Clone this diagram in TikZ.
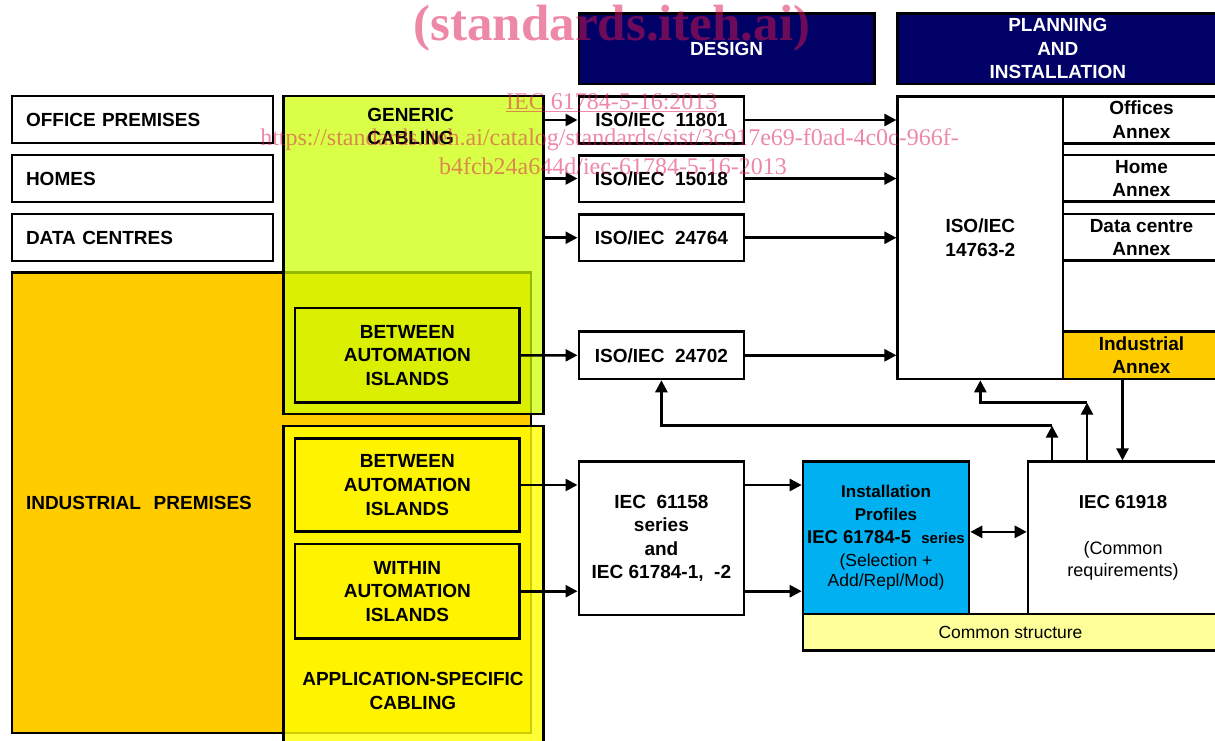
\documentclass[tikz,border=0pt]{standalone}
\usepackage{fontspec}
\setmainfont{Liberation Sans}
\newfontfamily\wmfont{Liberation Serif}
\usetikzlibrary{arrows.meta}
\definecolor{navy}{RGB}{0,0,102}
\definecolor{orangebox}{RGB}{255,204,0}
\definecolor{greenbox}{RGB}{204,255,0}
\definecolor{yellowbox}{RGB}{255,255,0}
\definecolor{bluebox}{RGB}{0,176,240}
\definecolor{paleyellow}{RGB}{255,255,153}
\definecolor{wmpink}{RGB}{220,20,80}
\newcommand{\boxfont}{\bfseries\fontsize{19}{23.6}\selectfont}

\begin{document}
\begin{tikzpicture}
    [x=1pt, y=-1pt, line width=2.6pt,
     box/.style={draw, rectangle, inner sep=0pt, align=center, font=\boxfont},
     txt/.style={inner sep=0pt, align=center, font=\boxfont},
     arr/.style={-{Triangle[length=12pt,width=12pt]}},
     wm/.style={inner sep=0pt, anchor=base, text=wmpink, text opacity=0.5}]
    \useasboundingbox (0,0) rectangle (1215,740);
    \clip (0,0) rectangle (1215,740);
    \fill[white] (0,0) rectangle (1215,740);
    % premises
    \node[box, minimum width=261pt, minimum height=47pt, text width=233pt, align=left] (office) at (142.5,119.5) {OFFICE PREMISES};
    \node[box, minimum width=261pt, minimum height=47pt, text width=233pt, align=left] (homes) at (142.5,178.5) {HOMES};
    \node[box, minimum width=261pt, minimum height=47pt, text width=233pt, align=left] (datac) at (142.5,237.5) {DATA CENTRES};
    \node[box, fill=orangebox, minimum width=519pt, minimum height=460.5pt, text width=491pt, align=left] (indprem) at (271.5,502.75) {INDUSTRIAL~~PREMISES};
    % cabling
    \node[box, fill=greenbox, fill opacity=0.72, minimum width=260pt, minimum height=318pt] (generic) at (413.5,255) {};
    \node[box, fill=yellowbox, fill opacity=0.8, minimum width=260pt, minimum height=330pt] (appsp) at (413.5,591) {};
    \node[txt] (generictxt) at (410.6,126.5) {GENERIC\\CABLING};
    \node[txt] (appsptxt) at (413,691) {APPLICATION-SPECIFIC\\CABLING};
    \node[box, minimum width=224.6pt, minimum height=94.7pt] (betA) at (407.3,355.4) {BETWEEN\\AUTOMATION\\ISLANDS};
    \node[box, minimum width=224.6pt, minimum height=93.4pt] (betB) at (407.3,485) {BETWEEN\\AUTOMATION\\ISLANDS};
    \node[box, minimum width=224.6pt, minimum height=94.3pt] (within) at (407.3,591.2) {WITHIN\\AUTOMATION\\ISLANDS};
    % design
    \node[box, fill=navy, text=white, minimum width=295.6pt, minimum height=70.7pt] (design) at (726.6,48.65) {DESIGN};
    \node[box, minimum width=165.2pt, minimum height=46.6pt] (iso11801) at (661.4,120) {ISO/IEC~~11801};
    \node[box, minimum width=165.2pt, minimum height=46.6pt] (iso15018) at (661.4,178.5) {ISO/IEC~~15018};
    \node[box, minimum width=165.2pt, minimum height=46.6pt] (iso24764) at (661.4,237.75) {ISO/IEC~~24764};
    \node[box, minimum width=165.2pt, minimum height=47.3pt] (iso24702) at (661.4,355.3) {ISO/IEC~~24702};
    \node[box, minimum width=165.2pt, minimum height=153.3pt] (iec61158) at (661.4,538.3) {IEC~~61158\\series\\and\\IEC 61784-1,~~-2};
    \node[box, fill=bluebox, minimum width=166pt, minimum height=152.3pt, font=\fontsize{17.5}{23}\selectfont] (profiles) at (886,537.85)
      {{\bfseries\fontsize{17}{23}\selectfont Installation}\\{\bfseries\fontsize{17}{23}\selectfont Profiles}\\{\bfseries\fontsize{18.5}{23}\selectfont IEC 61784-5~~{\fontsize{15}{23}\selectfont series}}\\(Selection +\\[-3pt]Add/Repl/Mod)};
    \node[box, fill=paleyellow, minimum width=415pt, minimum height=36.7pt, font=\fontsize{17.5}{21}\selectfont] (common) at (1010.5,632.35) {Common structure};
    \node[box, minimum width=190pt, minimum height=152.3pt, font=\fontsize{18}{21.5}\selectfont] (iec61918) at (1123,537.85)
      {{\bfseries\fontsize{18.7}{21.5}\selectfont IEC 61918}\\[24.5pt](Common\\requirements)};
    % planning and installation
    \node[box, fill=navy, text=white, minimum width=320.3pt, minimum height=70.7pt] (planning) at (1057.85,48.65) {PLANNING\\AND\\INSTALLATION};
    \node[box, minimum width=165.3pt, minimum height=282.3pt] (iso14763) at (980.35,237.85) {ISO/IEC\\14763-2};
    \node[box, minimum width=157pt, minimum height=46.6pt] (offannex) at (1141.5,120) {Offices\\Annex};
    \node[box, minimum width=157pt, minimum height=46.7pt] (homeannex) at (1141.5,178.35) {Home\\Annex};
    \node[box, minimum width=157pt, minimum height=46.7pt] (dcannex) at (1141.5,237.35) {Data centre\\Annex};
    \node[box, fill=orangebox, minimum width=157pt, minimum height=47.3pt] (indannex) at (1141.5,355.35) {Industrial\\Annex};
    % arrows
    \draw[arr] (generic.east |- iso11801) -- (iso11801);
    \draw[arr] (generic.east |- iso15018) -- (iso15018);
    \draw[arr] (generic.east |- iso24764) -- (iso24764);
    \draw[arr] (betA) -- (iso24702);
    \draw[arr] (iso11801) -- (iso11801 -| iso14763.west);
    \draw[arr] (iso15018) -- (iso15018 -| iso14763.west);
    \draw[arr] (iso24764) -- (iso24764 -| iso14763.west);
    \draw[arr] (iso24702) -- (iso24702 -| iso14763.west);
    \draw[arr] (betB) -- (betB -| iec61158.west);
    \draw[arr] (within) -- (within -| iec61158.west);
    \draw[arr] (iec61158.east |- betB) -- (profiles.west |- betB);
    \draw[arr] (iec61158.east |- within) -- (profiles.west |- within);
    \draw[{Triangle[length=12pt,width=12pt]}-{Triangle[length=12pt,width=12pt]}] ([yshift=6pt]profiles.east) -- ([yshift=6pt]profiles.east -| iec61918.west);
    \draw[arr] ([xshift=-19pt]indannex.south) -- ([xshift=-19pt]indannex.south |- iec61918.north);
    \coordinate (kneeA) at (1087,402.7);
    \coordinate (kneeB) at (1052,425.7);
    \draw[arr] (kneeA |- iec61918.north) -- (kneeA);
    \draw[arr] (kneeA) -| (iso14763.south);
    \draw[arr] (kneeB |- iec61918.north) -- (kneeB);
    \draw[arr] (kneeB) -| (iso24702.south);
    % watermark
    \node[wm, font=\wmfont\bfseries\fontsize{51}{51}\selectfont] (wmsite) at (612,40.7) {(standards.iteh.ai)};
    \node[wm, font=\wmfont\fontsize{24}{24}\selectfont] (wmcode) at (611.8,109.5) {\underline{IEC 61784-5-16:2013}};
    \node[wm, font=\wmfont\fontsize{24}{24}\selectfont] (wmurl) at (609.5,145) {https://standards.iteh.ai/catalog/standards/sist/3c917e69-f0ad-4c0c-966f-};
    \node[wm, font=\wmfont\fontsize{24}{24}\selectfont] (wmurl2) at (613,174) {b4fcb24a644d/iec-61784-5-16-2013};
\end{tikzpicture}
\end{document}
